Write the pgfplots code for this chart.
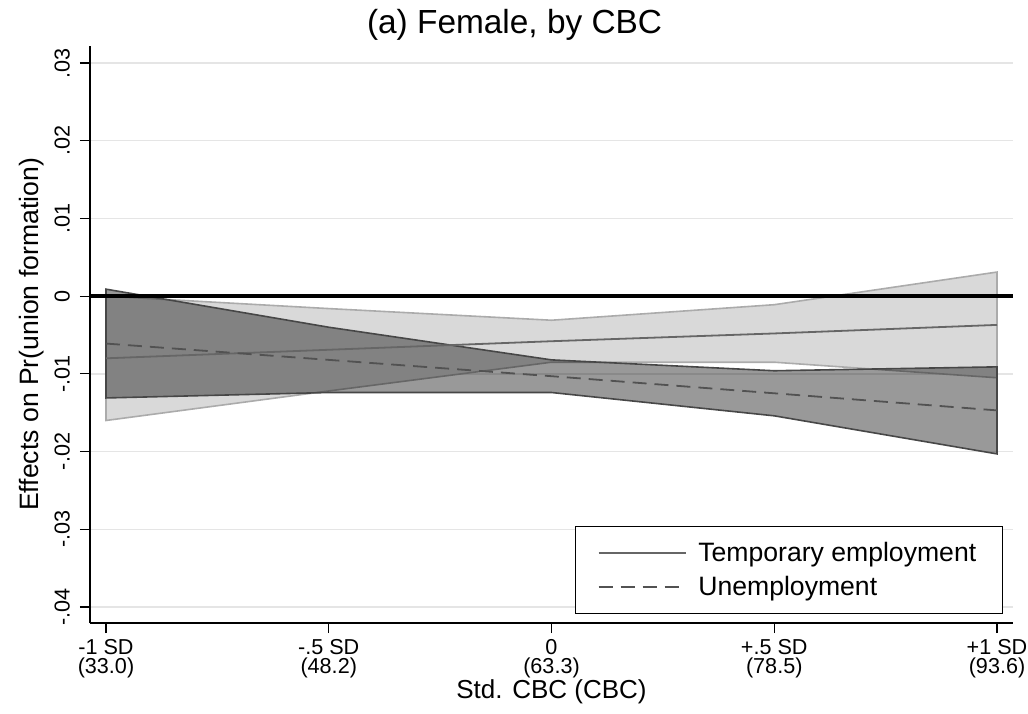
\documentclass[border=0pt]{standalone}
\usepackage{pgfplots}
\pgfplotsset{compat=1.18}
\usepackage{fontspec}
\setmainfont{Liberation Sans}
\begin{document}
\begin{tikzpicture}
\useasboundingbox (0,0) rectangle (514pt,356.5pt);
\begin{axis}[
  at={(45pt,45pt)}, anchor=south west,
  scale only axis, width=461.5pt, height=288.5pt,
  xmin=-1.0359, xmax=1.0359, ymin=-0.04206, ymax=0.03219,
  scaled y ticks=false,
  axis x line*=bottom, axis y line*=left,
  axis line style={black, line width=0.6pt},
  tick align=outside, major tick length=5pt,
  tick style={black, line width=0.6pt},
  xtick={-1,-0.5,0,0.5,1},
  xticklabels={{-1 SD\\(33.0)},{-.5 SD\\(48.2)},{0\\(63.3)},{+.5 SD\\(78.5)},{+1 SD\\(93.6)}},
  xticklabel style={align=center, font=\fontsize{10.8}{9.5}\selectfont},
  xticklabel shift={-0.5pt},
  ytick={-0.04,-0.03,-0.02,-0.01,0,0.01,0.02,0.03},
  yticklabels={-.04,-.03,-.02,-.01,0,.01,.02,.03},
  yticklabel style={rotate=90, anchor=south, font=\fontsize{10.8}{12}\selectfont},
  yticklabel shift={1.5pt},
  ymajorgrids, major grid style={black!10, line width=0.75pt},
  xlabel={Std. CBC (CBC)},
  xlabel style={font=\fontsize{13}{14}\selectfont, at={(axis description cs:0.5,0)}, anchor=base, yshift=-37.5pt},
  ylabel={Effects on Pr(union formation)},
  ylabel style={font=\fontsize{13.3}{14}\selectfont, yshift=-1.5pt},
  title={(a) Female, by CBC},
  title style={font=\fontsize{16.7}{18}\selectfont, at={(axis description cs:0.46,1)}, anchor=base, yshift=0pt},
  legend style={at={(axis description cs:0.989,0.0156)}, anchor=south east, draw=black, line width=0.6pt, font=\fontsize{13.3}{15}\selectfont, inner xsep=11pt, inner ysep=5.5pt, row sep=2pt, column sep=4pt},
  legend cell align=left,
  legend image code/.code={\draw[#1, line width=0.8pt] (0pt,0pt) -- (43.5pt,0pt);},
]
% Temporary employment CI
\addplot[forget plot, fill=black!15, draw=black!33, line width=0.8pt] coordinates {
  (-1,0.0000) (-0.5,-0.0016) (0,-0.0031) (0.5,-0.0011) (1,0.0031)
  (1,-0.0105) (0.5,-0.0085) (0,-0.0085) (-0.5,-0.0122) (-1,-0.0160)
} -- cycle;
% Unemployment CI
\addplot[forget plot, fill=black, fill opacity=0.4, draw=black!72, line width=0.8pt] coordinates {
  (-1,0.0009) (-0.5,-0.0040) (0,-0.0082) (0.5,-0.0096) (1,-0.0091)
  (1,-0.0203) (0.5,-0.0154) (0,-0.0124) (-0.5,-0.0124) (-1,-0.0131)
} -- cycle;
% zero line
\addplot[forget plot, black, line width=1.8pt] coordinates {(-1.0359,0) (1.0359,0)};
% point estimates
\addplot[black!60, line width=0.9pt] coordinates {
  (-1,-0.0080) (-0.5,-0.0069) (0,-0.0058) (0.5,-0.0048) (1,-0.0037)};
\addlegendentry{Temporary employment}
\addplot[black!68, line width=0.9pt, dash pattern=on 7pt off 4pt] coordinates {
  (-1,-0.0061) (-0.5,-0.0082) (0,-0.0103) (0.5,-0.0125) (1,-0.0147)};
\addlegendentry{Unemployment}
\end{axis}
\end{tikzpicture}
\end{document}
